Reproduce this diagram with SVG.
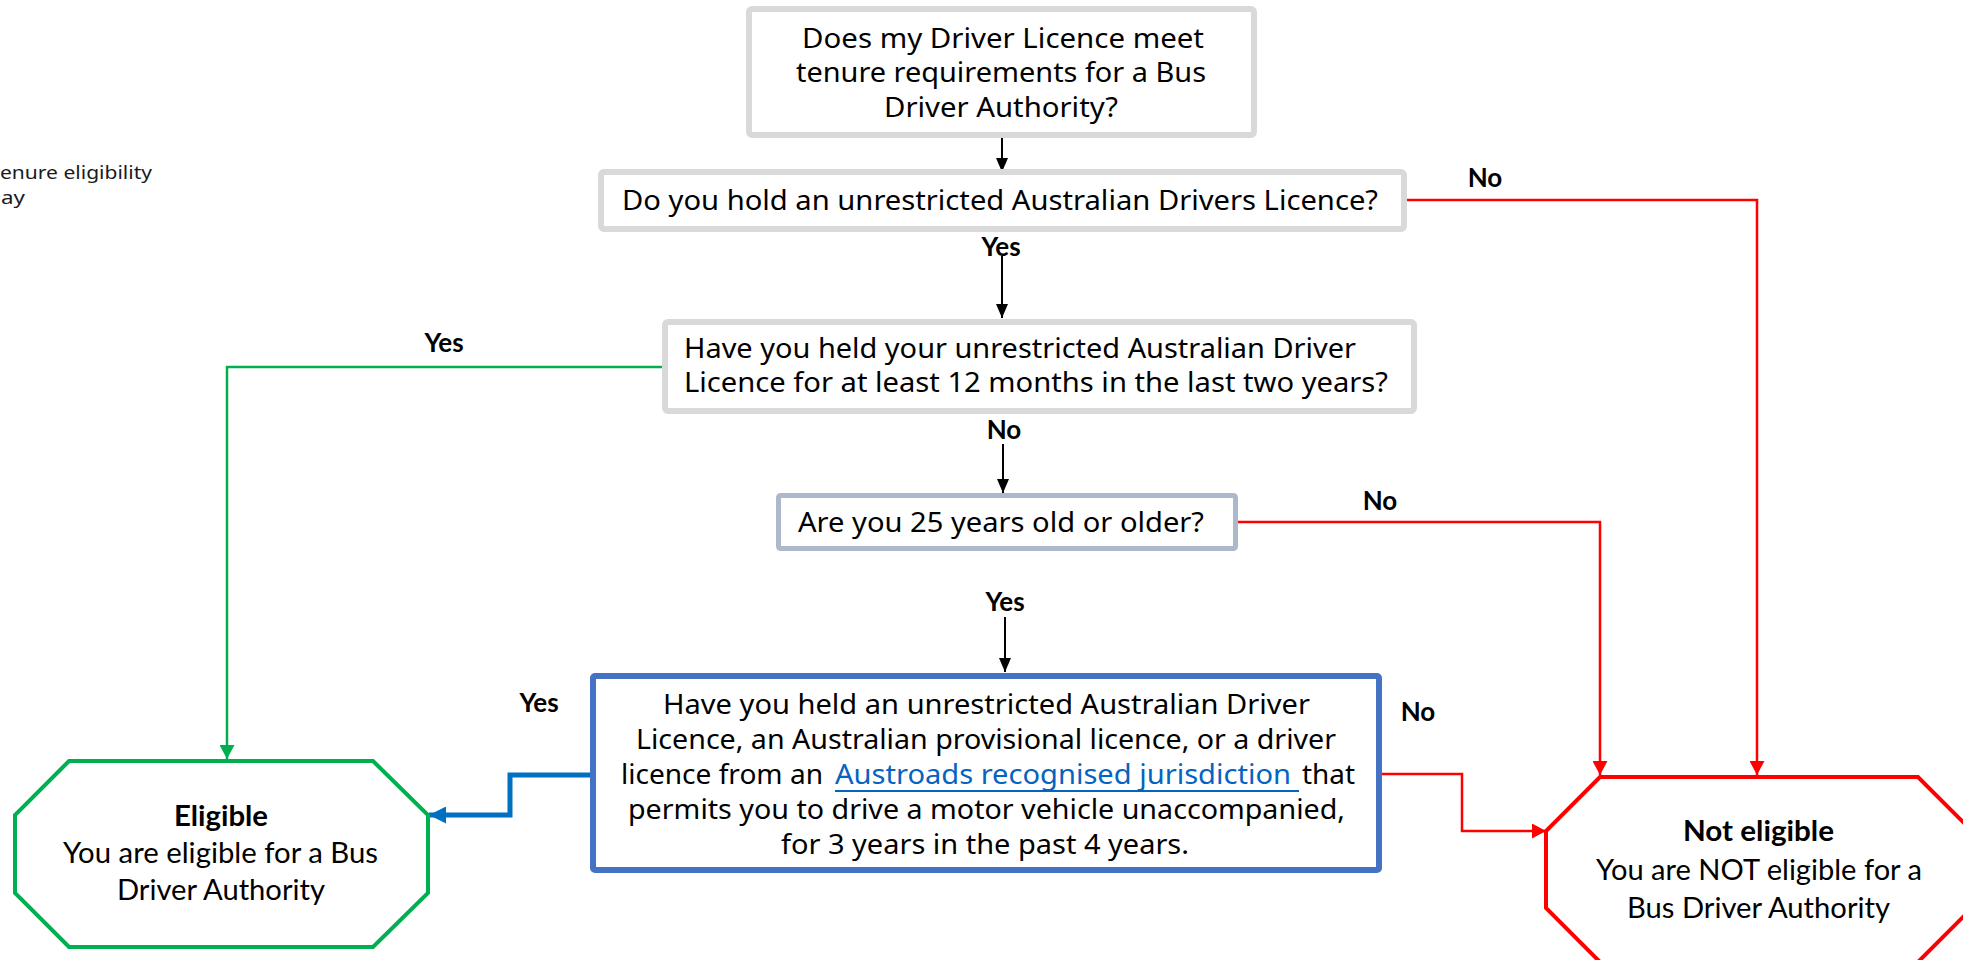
<svg xmlns="http://www.w3.org/2000/svg" width="1963" height="960" viewBox="0 0 1963 960">
<style>
.box{fill:#fff;stroke:#d9d9d9;stroke-width:6}
.t{font-family:"Noto Sans","Liberation Sans",sans-serif;font-size:27px;fill:#000}
.lbl{font-family:Lato,"Liberation Sans",sans-serif;font-weight:700;font-size:26px;fill:#000;text-anchor:middle}
.ot{font-family:Lato,"Liberation Sans",sans-serif;font-size:29px;fill:#000}
.ob{font-weight:700}
.side{font-family:"Noto Sans","Liberation Sans",sans-serif;font-size:18px;fill:#1a1a1a}
.c{fill:none;stroke-linejoin:miter}
.k{stroke:#000;stroke-width:2}
.r{stroke:#ff0000;stroke-width:2.5}
.g{stroke:#00b050;stroke-width:2.5}
.b{stroke:#0070c0;stroke-width:5}
</style>
<defs>
<marker id="ak" markerUnits="userSpaceOnUse" markerWidth="14" markerHeight="12" viewBox="0 0 14 12" refX="14" refY="6" orient="auto"><path d="M0,0 L14,6 L0,12 z" fill="#000"/></marker>
<marker id="ar" markerUnits="userSpaceOnUse" markerWidth="14" markerHeight="15" viewBox="0 0 14 15" refX="14" refY="7.5" orient="auto"><path d="M0,0 L14,7.5 L0,15 z" fill="#ff0000"/></marker>
<marker id="ag" markerUnits="userSpaceOnUse" markerWidth="14" markerHeight="15" viewBox="0 0 14 15" refX="14" refY="7.5" orient="auto"><path d="M0,0 L14,7.5 L0,15 z" fill="#00b050"/></marker>
<marker id="ab" markerUnits="userSpaceOnUse" markerWidth="17" markerHeight="17" viewBox="0 0 17 17" refX="17" refY="8.5" orient="auto"><path d="M0,0 L17,8.5 L0,17 z" fill="#0070c0"/></marker>
</defs>
<rect width="1963" height="960" fill="#fff"/>

<g id="side-note">
<text class="side" x="0" y="179" textLength="152" lengthAdjust="spacingAndGlyphs">enure eligibility</text>
<text class="side" x="1" y="204" textLength="24" lengthAdjust="spacingAndGlyphs">ay</text>
</g>

<g id="connectors">
<path class="c k" d="M1002,138 V172" marker-end="url(#ak)"/>
<path class="c k" d="M1002,256 V318" marker-end="url(#ak)"/>
<path class="c k" d="M1003,444 V493" marker-end="url(#ak)"/>
<path class="c k" d="M1005,617 V672" marker-end="url(#ak)"/>
<path class="c r" d="M1407,200 H1757 V775" marker-end="url(#ar)"/>
<path class="c r" d="M1238,522 H1600 V775" marker-end="url(#ar)"/>
<path class="c r" d="M1382,774 H1462 V831 H1546" marker-end="url(#ar)"/>
<path class="c g" d="M662,367 H227 V759" marker-end="url(#ag)"/>
<path class="c b" d="M590,775 H510 V815 H429" marker-end="url(#ab)"/>
</g>

<g id="labels">
<text class="lbl" x="1485" y="187">No</text>
<text class="lbl" x="1001" y="256">Yes</text>
<text class="lbl" x="444" y="352">Yes</text>
<text class="lbl" x="1004" y="439">No</text>
<text class="lbl" x="1380" y="510">No</text>
<text class="lbl" x="1005" y="611">Yes</text>
<text class="lbl" x="539" y="712">Yes</text>
<text class="lbl" x="1418" y="721">No</text>
</g>

<g id="start">
<rect class="box" x="749" y="9" width="505" height="126" rx="3"/>
<text class="t" x="802" y="48" textLength="402" lengthAdjust="spacingAndGlyphs">Does my Driver Licence meet</text>
<text class="t" x="796" y="82" textLength="410" lengthAdjust="spacingAndGlyphs">tenure requirements for a Bus</text>
<text class="t" x="884" y="117" textLength="234" lengthAdjust="spacingAndGlyphs">Driver Authority?</text>
</g>

<g id="q-unrestricted">
<rect class="box" x="601" y="172" width="803" height="57" rx="3"/>
<text class="t" x="622" y="210" textLength="756" lengthAdjust="spacingAndGlyphs">Do you hold an unrestricted Australian Drivers Licence?</text>
</g>

<g id="q-12months">
<rect class="box" x="665" y="322" width="749" height="89" rx="3"/>
<text class="t" x="684" y="358" textLength="672" lengthAdjust="spacingAndGlyphs">Have you held your unrestricted Australian Driver</text>
<text class="t" x="684" y="392" textLength="704" lengthAdjust="spacingAndGlyphs">Licence for at least 12 months in the last two years?</text>
</g>

<g id="q-age">
<rect x="778.5" y="495.5" width="457" height="53" rx="2" fill="#fff" stroke="#adb9ca" stroke-width="5"/>
<text class="t" x="798" y="532" textLength="406" lengthAdjust="spacingAndGlyphs">Are you 25 years old or older?</text>
</g>

<g id="q-3years">
<rect x="593" y="676" width="786" height="194" rx="2" fill="#fff" stroke="#4472c4" stroke-width="6"/>
<text class="t" x="663" y="714" textLength="647" lengthAdjust="spacingAndGlyphs">Have you held an unrestricted Australian Driver</text>
<text class="t" x="636" y="749" textLength="700" lengthAdjust="spacingAndGlyphs">Licence, an Australian provisional licence, or a driver</text>
<text class="t" x="621" y="784" textLength="202" lengthAdjust="spacingAndGlyphs">licence from an</text>
<text class="t" x="835" y="784" textLength="456" lengthAdjust="spacingAndGlyphs" style="fill:#0563c1">Austroads recognised jurisdiction</text>
<line x1="835" y1="791" x2="1299" y2="791" stroke="#0563c1" stroke-width="2"/>
<text class="t" x="1302" y="784" textLength="53" lengthAdjust="spacingAndGlyphs">that</text>
<text class="t" x="628" y="819" textLength="717" lengthAdjust="spacingAndGlyphs">permits you to drive a motor vehicle unaccompanied,</text>
<text class="t" x="781" y="854" textLength="408" lengthAdjust="spacingAndGlyphs">for 3 years in the past 4 years.</text>
</g>

<g id="eligible">
<polygon points="69,761 373,761 428,815 428,893 373,947 69,947 15,893 15,815" fill="#fff" stroke="#00b050" stroke-width="4"/>
<text class="ot ob" x="174" y="826" textLength="94" lengthAdjust="spacingAndGlyphs">Eligible</text>
<text class="ot" x="63" y="863" textLength="315" lengthAdjust="spacingAndGlyphs">You are eligible for a Bus</text>
<text class="ot" x="117" y="900" textLength="208" lengthAdjust="spacingAndGlyphs">Driver Authority</text>
</g>

<g id="not-eligible">
<polygon points="1600,777 1918,777 1972,831 1972,908 1918,962 1600,962 1546,908 1546,831" fill="#fff" stroke="#ff0000" stroke-width="4"/>
<text class="ot ob" x="1683" y="841" textLength="151" lengthAdjust="spacingAndGlyphs">Not eligible</text>
<text class="ot" x="1596" y="880" textLength="326" lengthAdjust="spacingAndGlyphs">You are NOT eligible for a</text>
<text class="ot" x="1627" y="918" textLength="263" lengthAdjust="spacingAndGlyphs">Bus Driver Authority</text>
</g>
</svg>
